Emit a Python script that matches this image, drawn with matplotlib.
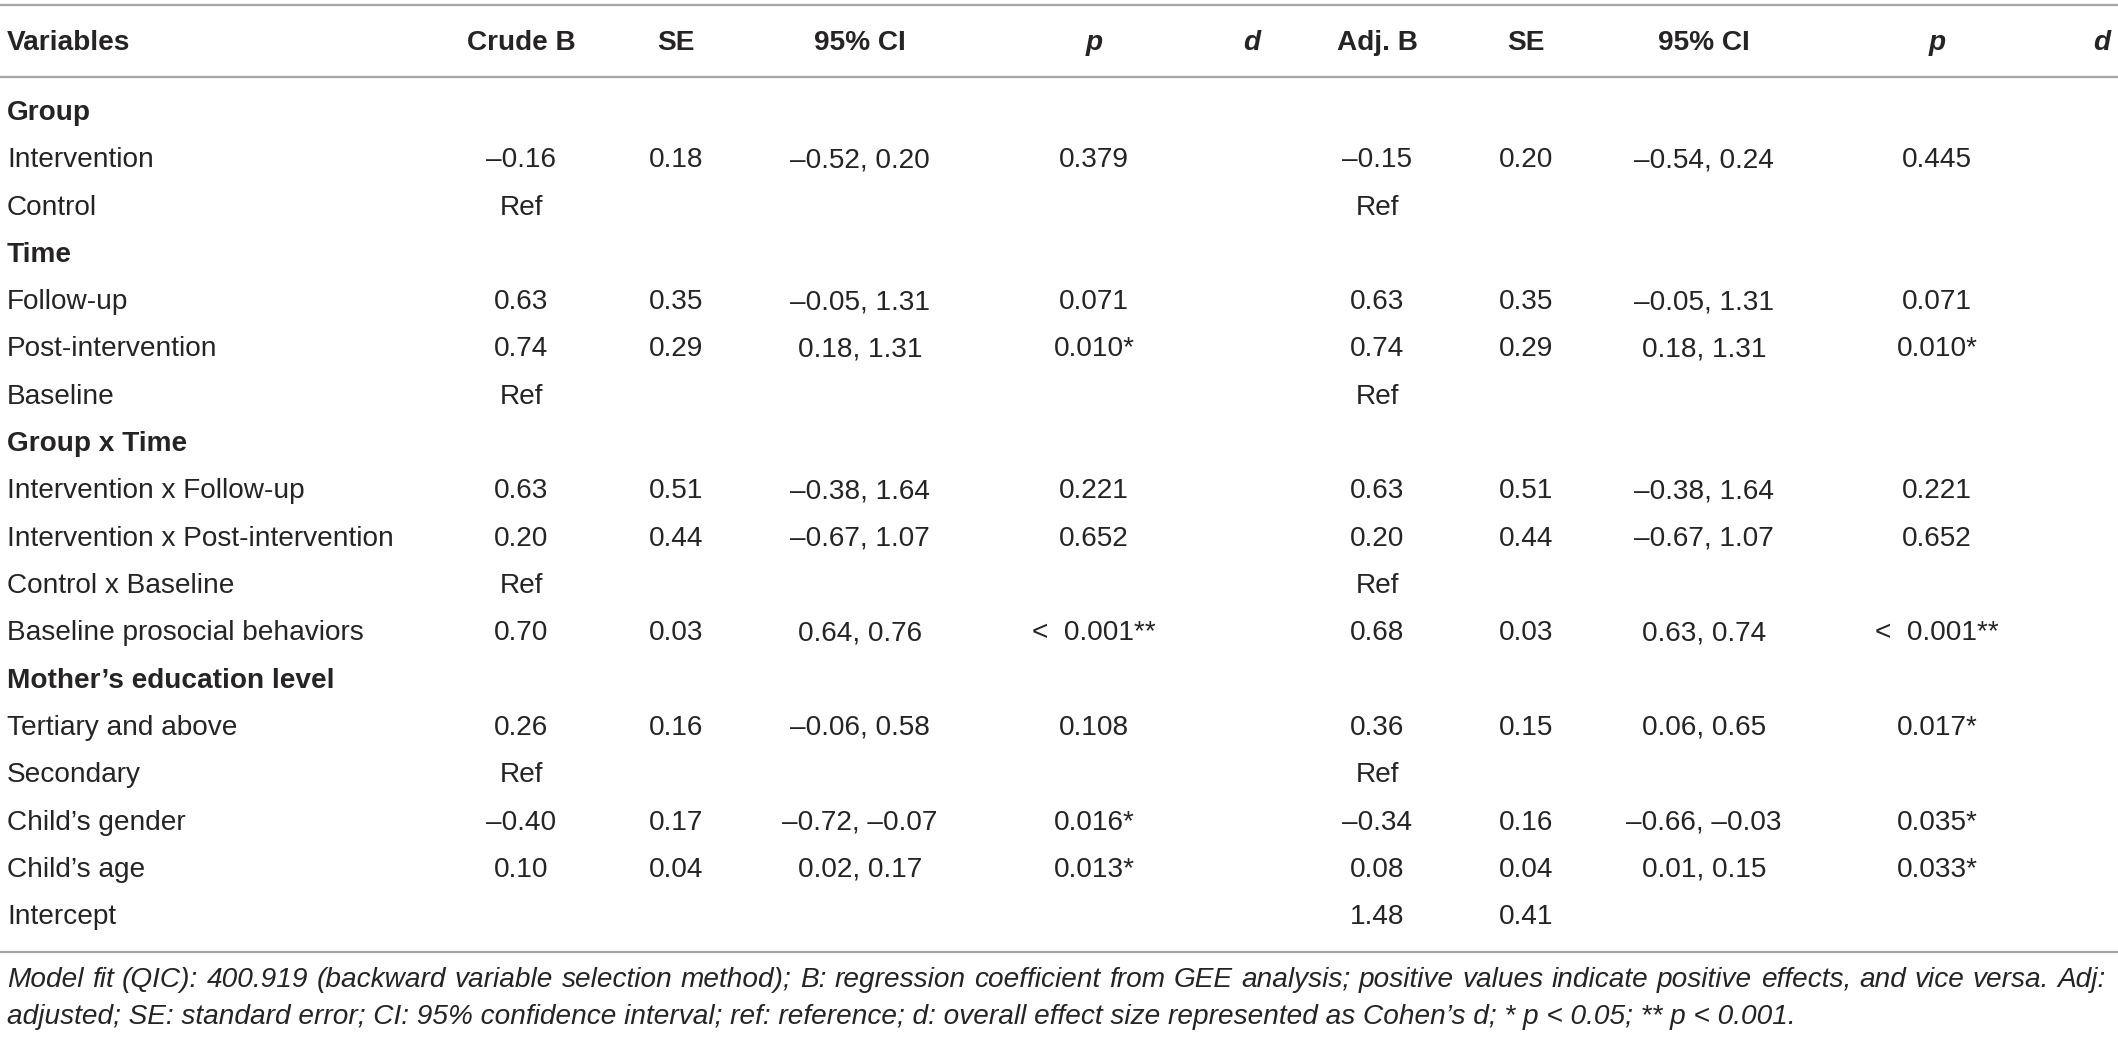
import matplotlib
matplotlib.use('Agg')
import matplotlib.pyplot as plt

# ============================================================
# Table content
# ============================================================
headers = ['Variables', 'Crude B', 'SE', '95% CI', 'p', 'd',
           'Adj. B', 'SE', '95% CI', 'p', 'd']
italic_headers = {4, 5, 9, 10}

rows = ['Group', 'Intervention', 'Control',
        'Time', 'Follow-up', 'Post-intervention', 'Baseline',
        'Group x Time', 'Intervention x Follow-up',
        'Intervention x Post-intervention', 'Control x Baseline',
        'Baseline prosocial behaviors',
        'Mother\u2019s education level', 'Tertiary and above', 'Secondary',
        'Child\u2019s gender', 'Child\u2019s age', 'Intercept']
headings = {'Group', 'Time', 'Group x Time', 'Mother\u2019s education level'}

crude_b = ['', '\u20130.16', 'Ref', '', '0.63', '0.74', 'Ref', '', '0.63', '0.20',
           'Ref', '0.70', '', '0.26', 'Ref', '\u20130.40', '0.10', '']
crude_se = ['', '0.18', '', '', '0.35', '0.29', '', '', '0.51', '0.44',
            '', '0.03', '', '0.16', '', '0.17', '0.04', '']
crude_ci = ['', '\u20130.52, 0.20', '', '', '\u20130.05, 1.31', '0.18, 1.31', '', '',
            '\u20130.38, 1.64', '\u20130.67, 1.07', '', '0.64, 0.76', '',
            '\u20130.06, 0.58', '', '\u20130.72, \u20130.07', '0.02, 0.17', '']
crude_p = ['', '0.379', '', '', '0.071', '0.010*', '', '', '0.221', '0.652',
           '', '<  0.001**', '', '0.108', '', '0.016*', '0.013*', '']
crude_d = [''] * len(rows)

adj_b = ['', '\u20130.15', 'Ref', '', '0.63', '0.74', 'Ref', '', '0.63', '0.20',
         'Ref', '0.68', '', '0.36', 'Ref', '\u20130.34', '0.08', '1.48']
adj_se = ['', '0.20', '', '', '0.35', '0.29', '', '', '0.51', '0.44',
          '', '0.03', '', '0.15', '', '0.16', '0.04', '0.41']
adj_ci = ['', '\u20130.54, 0.24', '', '', '\u20130.05, 1.31', '0.18, 1.31', '', '',
          '\u20130.38, 1.64', '\u20130.67, 1.07', '', '0.63, 0.74', '',
          '0.06, 0.65', '', '\u20130.66, \u20130.03', '0.01, 0.15', '']
adj_p = ['', '0.445', '', '', '0.071', '0.010*', '', '', '0.221', '0.652',
         '', '<  0.001**', '', '0.017*', '', '0.035*', '0.033*', '']
adj_d = [''] * len(rows)

footnote = [
    'Model fit (QIC): 400.919 (backward variable selection method); B: regression '
    'coefficient from GEE analysis; positive values indicate positive effects, and vice versa. Adj:',
    'adjusted; SE: standard error; CI: 95% confidence interval; ref: reference; '
    'd: overall effect size represented as Cohen\u2019s d; * p < 0.05; ** p < 0.001.',
]

columns = [crude_b, crude_se, crude_ci, crude_p, crude_d,
           adj_b, adj_se, adj_ci, adj_p, adj_d]

# ============================================================
# Layout (pixel coordinates)
# ============================================================
W, H = 2118, 1038
col_x = [521, 676, 860, 1094, 1252, 1377, 1526, 1704, 1937, 2102]
label_x = 7
header_y = 43
row_y0 = 113
row_dy = 47.3
text_color = '#262324'
rule_color = '#a6a6a6'
fs = 20.2
foot_right = 2106

plt.rcParams['font.family'] = ['Liberation Sans', 'DejaVu Sans']

fig = plt.figure(figsize=(W / 100, H / 100), dpi=100)
ax = fig.add_axes([0, 0, 1, 1])
ax.set_xlim(0, W)
ax.set_ylim(H, 0)
ax.axis('off')

# rules
for y in [5, 77, 952]:
    ax.plot([0, W], [y, y], color=rule_color, linewidth=1.6, solid_capstyle='butt')

# header
ax.text(label_x, header_y, headers[0], fontsize=fs, fontweight='bold',
        color=text_color, ha='left', va='center')
for k, (x, h) in enumerate(zip(col_x, headers[1:]), start=1):
    style = 'italic' if k in italic_headers else 'normal'
    ax.text(x, header_y, h, fontsize=fs, fontweight='bold', fontstyle=style,
            color=text_color, ha='center', va='center')

# body
for i, name in enumerate(rows):
    y = row_y0 + i * row_dy
    bold = 'bold' if name in headings else 'normal'
    ax.text(label_x, y, name, fontsize=fs, fontweight=bold,
            color=text_color, ha='left', va='center')
    for x, col in zip(col_x, columns):
        if col[i]:
            ax.text(x, y, col[i], fontsize=fs, color=text_color,
                    ha='center', va='center')

# footnote: first line justified to the right edge, second line left aligned
renderer = fig.canvas.get_renderer()
words = footnote[0].split(' ')
widths = []
for w in words:
    t = ax.text(0, 0, w, fontsize=fs, fontstyle='italic')
    widths.append(t.get_window_extent(renderer).width)
    t.remove()
gap = (foot_right - label_x - sum(widths)) / (len(words) - 1)
x = label_x
for w, wd in zip(words, widths):
    ax.text(x, 980, w, fontsize=fs, fontstyle='italic',
            color=text_color, ha='left', va='center')
    x += wd + gap
ax.text(label_x, 1017, footnote[1], fontsize=fs, fontstyle='italic',
        color=text_color, ha='left', va='center')

fig.savefig('out.png', dpi=100)
